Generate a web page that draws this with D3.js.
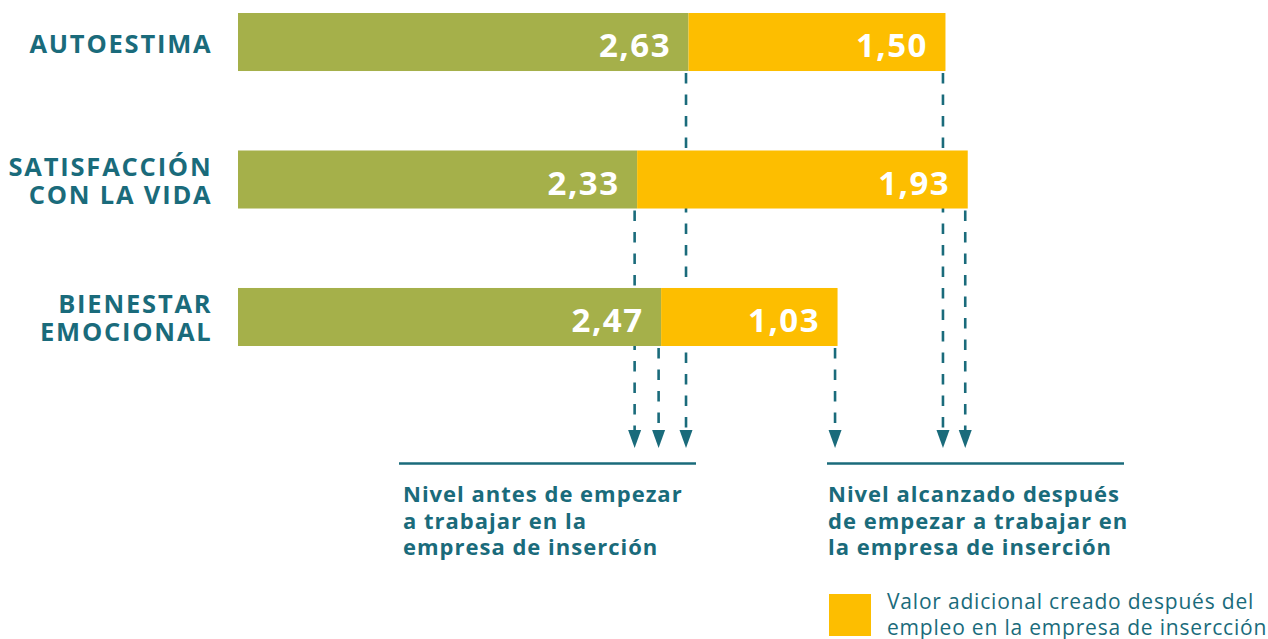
<!DOCTYPE html>
<html>
<head>
<meta charset="utf-8">
<script src="https://cdn.jsdelivr.net/npm/d3@7"></script>
<style>
  body { margin: 0; background: #fff; }
  svg { display: block; font-family: "Open Sans", sans-serif; }
</style>
</head>
<body>
<svg width="1268" height="639"></svg>
<script>
// data
var categories = ["AUTOESTIMA", "SATISFACCIÓN CON LA VIDA", "BIENESTAR EMOCIONAL"];
var categoryLines = [["AUTOESTIMA"], ["SATISFACCIÓN", "CON LA VIDA"], ["BIENESTAR", "EMOCIONAL"]];
var before = [2.63, 2.33, 2.47];
var added = [1.50, 1.93, 1.03];
var beforeLabel = ["Nivel antes de empezar", "a trabajar en la", "empresa de inserción"];
var afterLabel = ["Nivel alcanzado después", "de empezar a trabajar en", "la empresa de inserción"];
var legendLabel = ["Valor adicional creado después del", "empleo en la empresa de insercción"];

var teal = "#1a6b7b",
    green = "#a5b04a",
    yellow = "#fdbe00";

var svg = d3.select("svg");

var data = categories.map(function(c, i) {
  return { cat: c, lines: categoryLines[i], before: before[i], added: added[i], total: before[i] + added[i] };
});

var x = d3.scaleLinear()
  .domain([0, 5])
  .range([238, 238 + 5 * 171.3]);

var y = d3.scaleBand()
  .domain(categories)
  .range([13, 346])
  .paddingInner(0.578)
  .paddingOuter(0);

var arrowTip = 448;

// dashed guides (drawn first so bars cover them)
var guides = [];
data.forEach(function(d) {
  guides.push({ cat: d.cat, v: d.before });
  guides.push({ cat: d.cat, v: d.total });
});

var gGuides = svg.append("g");
gGuides.selectAll("line.guide")
  .data(guides)
  .enter().append("line")
  .attr("class", "guide")
  .attr("x1", function(d) { return x(d.v) - 2.5; })
  .attr("x2", function(d) { return x(d.v) - 2.5; })
  .attr("y1", function(d) { return y(d.cat) + y.bandwidth() + 2; })
  .attr("y2", arrowTip - 17)
  .attr("stroke", teal)
  .attr("stroke-width", 2.6)
  .attr("stroke-dasharray", "10.5,11");

gGuides.selectAll("path.head")
  .data(guides)
  .enter().append("path")
  .attr("class", "head")
  .attr("d", function(d) {
    var cx = x(d.v) - 2.5;
    return "M" + (cx - 6.5) + "," + (arrowTip - 18) + "L" + (cx + 6.5) + "," + (arrowTip - 18) + "L" + cx + "," + arrowTip + "Z";
  })
  .attr("fill", teal);

// bars
var bars = svg.append("g");
bars.selectAll("rect.before")
  .data(data)
  .enter().append("rect")
  .attr("class", "before")
  .attr("x", x(0))
  .attr("y", function(d) { return y(d.cat); })
  .attr("width", function(d) { return x(d.before) - x(0); })
  .attr("height", y.bandwidth())
  .attr("fill", green);

bars.selectAll("rect.added")
  .data(data)
  .enter().append("rect")
  .attr("class", "added")
  .attr("x", function(d) { return x(d.before); })
  .attr("y", function(d) { return y(d.cat); })
  .attr("width", function(d) { return x(d.total) - x(d.before); })
  .attr("height", y.bandwidth())
  .attr("fill", yellow);

var fmt = function(v) { return d3.format(".2f")(v).replace(".", ","); };

// value labels
var vals = [];
data.forEach(function(d) {
  vals.push({ cat: d.cat, end: d.before, v: d.before });
  vals.push({ cat: d.cat, end: d.total, v: d.added });
});
bars.selectAll("text.val")
  .data(vals)
  .enter().append("text")
  .attr("class", "val")
  .attr("x", function(d) { return x(d.end) - 17.5; })
  .attr("y", function(d) { return y(d.cat) + y.bandwidth() / 2 + 15; })
  .attr("text-anchor", "end")
  .attr("fill", "#fff")
  .attr("font-weight", 700)
  .attr("font-size", 33)
  .attr("letter-spacing", 1.5)
  .text(function(d) { return fmt(d.v); });

// category labels
var cats = svg.append("g")
  .attr("fill", teal)
  .attr("font-weight", 700)
  .attr("font-size", 25.5)
  .attr("letter-spacing", 1.8)
  .attr("text-anchor", "end");
cats.selectAll("text")
  .data(data)
  .enter().append("text")
  .each(function(d) {
    var n = d.lines.length;
    var y0 = y(d.cat) + y.bandwidth() / 2 + 10.5 - (n - 1) * 14;
    d3.select(this).selectAll("tspan")
      .data(d.lines)
      .enter().append("tspan")
      .attr("x", 212.5)
      .attr("y", function(t, j) { return y0 + j * 28; })
      .text(function(t) { return t; });
  });

// brackets under the arrows
var groups = [
  { x0: 399, x1: 696, tx: 403, lines: beforeLabel },
  { x0: 827, x1: 1124, tx: 828, lines: afterLabel }
];
var gb = svg.append("g");
gb.selectAll("line")
  .data(groups)
  .enter().append("line")
  .attr("x1", function(d) { return d.x0; })
  .attr("x2", function(d) { return d.x1; })
  .attr("y1", 463.5)
  .attr("y2", 463.5)
  .attr("stroke", teal)
  .attr("stroke-width", 2.6);

gb.selectAll("text")
  .data(groups)
  .enter().append("text")
  .attr("fill", teal)
  .attr("font-weight", 700)
  .attr("font-size", 22)
  .attr("letter-spacing", 1)
  .each(function(d) {
    d3.select(this).selectAll("tspan")
      .data(d.lines)
      .enter().append("tspan")
      .attr("x", d.tx)
      .attr("y", function(t, j) { return 502 + j * 26.5; })
      .text(function(t) { return t; });
  });

// legend
var legend = svg.append("g");
legend.append("rect")
  .attr("x", 829)
  .attr("y", 594)
  .attr("width", 42)
  .attr("height", 42)
  .attr("fill", yellow);
legend.append("text")
  .attr("fill", teal)
  .attr("font-size", 21)
  .attr("letter-spacing", 0.8)
  .selectAll("tspan")
  .data(legendLabel)
  .enter().append("tspan")
  .attr("x", 887)
  .attr("y", function(t, j) { return 609 + j * 25.5; })
  .text(function(t) { return t; });
</script>
</body>
</html>
